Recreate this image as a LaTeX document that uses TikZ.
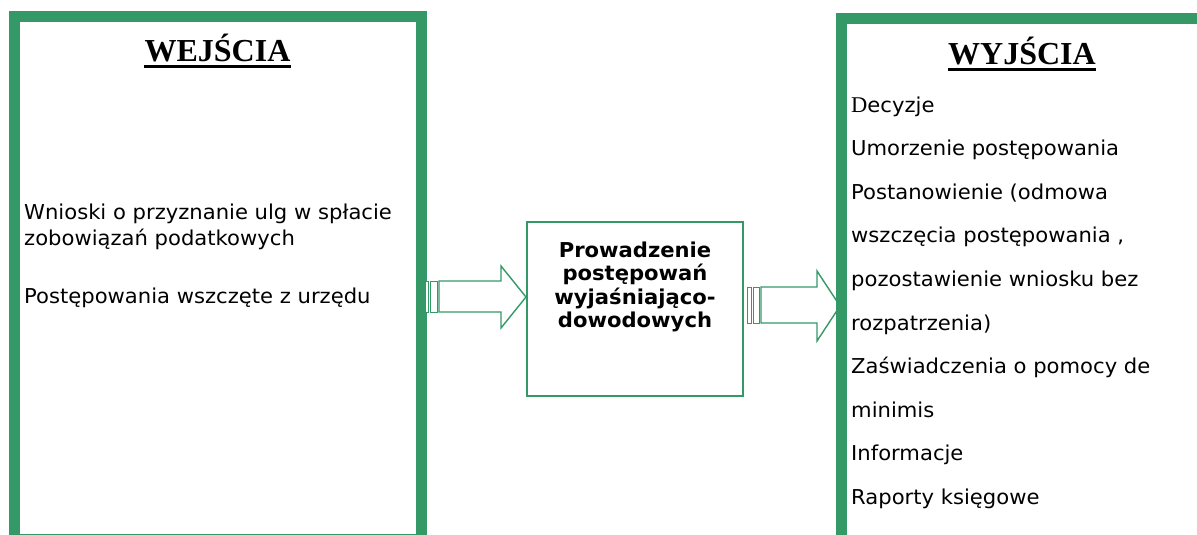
\documentclass[tikz,border=0pt]{standalone}
\usepackage{fontspec}
\setmainfont{Liberation Serif}
\newfontfamily\bodyfont[FakeStretch=1.03]{DejaVu Sans}
\definecolor{frame}{RGB}{52,153,103}
\begin{document}
\begin{tikzpicture}[x=1pt,y=-1pt,
  thickframe/.style={draw=frame,line width=11pt},
  thinframe/.style={draw=frame,line width=2pt},
  arrowline/.style={draw=frame,line width=1.4pt,fill=white,line join=miter},
  barline/.style={draw=frame,line width=0.9pt,fill=white},
  title/.style={inner sep=0pt,anchor=base,font=\fontsize{32}{36}\selectfont\bfseries},
  item/.style={inner sep=0pt,anchor=base west,font=\bodyfont\fontsize{20.5}{22}\selectfont},
  procbox/.style={inner sep=0pt,align=center,font=\bodyfont\bfseries\fontsize{20.5}{23.5}\selectfont}]
\useasboundingbox (0,0) rectangle (1197,535);
\begin{scope}
\clip (0,0) rectangle (1197,535);
% inputs frame
\draw[thickframe] (14.5,17) rectangle (421.5,539);
% striped arrow: inputs -> process
\draw[barline] (425,281) rectangle (428,312);
\draw[barline] (430,281) rectangle (437,312);
\draw[arrowline] (439,281) -- (501,281) -- (501,266) -- (526,297) -- (501,328) -- (501,312) -- (439,312) -- cycle;
% striped arrow: process -> outputs
\draw[barline] (747,287) rectangle (751,323);
\draw[barline] (753,287) rectangle (759,323);
\draw[arrowline] (761,287) -- (817,287) -- (817,271) -- (840,306) -- (817,341) -- (817,323) -- (761,323) -- cycle;
% process box
\draw[thinframe,fill=white] (527,222) rectangle (743,396);
% outputs frame
\draw[thickframe] (841,18.5) rectangle (1215,560);
\end{scope}

% titles
\node[title] (tin) at (217.5,62) {WEJŚCIA};
\draw[line width=3pt] ([yshift=-4.5pt]tin.base west) -- ([yshift=-4.5pt]tin.base east);
\node[title] (tout) at (1022,65) {WYJŚCIA};
\draw[line width=3pt] ([yshift=-4.5pt]tout.base west) -- ([yshift=-4.5pt]tout.base east);

% inputs
\node[item] (i1) at (24,219) {Wnioski o przyznanie ulg w spłacie};
\node[item] (i2) at (24,245) {zobowiązań podatkowych};
\node[item] (i3) at (24,303) {Postępowania wszczęte z urzędu};

% process
\node[procbox] (p) at (635,287) {Prowadzenie\\postępowań\\wyjaśniająco-\\dowodowych};

% outputs
\node[item] (o1) at (851,112) {{\rmfamily\fontsize{22.5}{24}\selectfont D}ecyzje};
\node[item] (o2) at (851,155.6) {Umorzenie postępowania};
\node[item] (o3) at (851,199.2) {Postanowienie (odmowa};
\node[item] (o4) at (851,242.8) {wszczęcia postępowania ,};
\node[item] (o5) at (851,286.4) {pozostawienie wniosku bez};
\node[item] (o6) at (851,330) {rozpatrzenia)};
\node[item] (o7) at (851,373.6) {Zaświadczenia o pomocy de};
\node[item] (o8) at (851,417.2) {minimis};
\node[item] (o9) at (851,460.8) {Informacje};
\node[item] (o10) at (851,504.4) {Raporty księgowe};
\end{tikzpicture}
\end{document}
